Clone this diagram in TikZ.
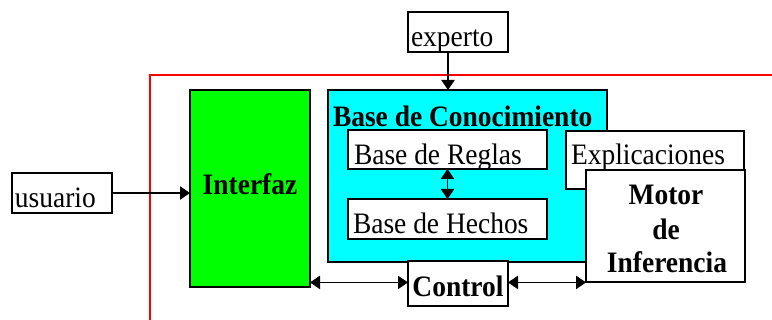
\documentclass[tikz,border=0pt]{standalone}
\usepackage{graphicx}
\usepackage{fontspec}
\setmainfont{Liberation Serif}
\usetikzlibrary{fit,arrows.meta}
\definecolor{kbcyan}{RGB}{0,255,255}
\definecolor{ifgreen}{RGB}{0,255,0}
\definecolor{framered}{RGB}{255,0,0}
\newcommand{\tallt}[1]{\scalebox{1}[1.08]{#1}}
\begin{document}
\begin{tikzpicture}[x=0.75pt,y=-0.75pt,
 box/.style={draw=black, line width=1pt, inner sep=0pt, outer sep=0pt},
 txt/.style={inner sep=0pt, outer sep=0pt, font=\fontsize{20.6}{24}\selectfont},
 btxt/.style={inner sep=0pt, outer sep=0pt, font=\fontsize{20.6}{24}\selectfont\bfseries},
 arr/.style={line width=1pt, -{Triangle[length=7.5pt,width=10pt]}},
 darr/.style={line width=1pt, {Triangle[length=7.5pt,width=10pt]}-{Triangle[length=7.5pt,width=10pt]}},
]
\useasboundingbox (0,0) rectangle (772,320);
% red frame
\draw[framered, line width=1.5pt] (772,75) -- (150,75) -- (150,320);

% boxes
\node[box, fit={(408,12)(508,52)}] (experto) {};
\node[box, fit={(12,173)(112,213)}] (usuario) {};
\node[box, fill=ifgreen, fit={(190,90)(310,287)}] (interfaz) {};
\node[box, fill=kbcyan, fit={(328,90)(607,262)}] (kb) {};
\node[box, fill=white, fit={(348,130)(547,169)}] (reglas) {};
\node[box, fill=white, fit={(348,199)(547,239)}] (hechos) {};
\node[box, fill=white, fit={(566,131)(744,189)}] (explic) {};
\node[box, fill=white, fit={(408,261)(508,306)}] (control) {};

% texts
\begin{scope}
\clip (experto.north west) rectangle (experto.south east);
\node[txt, anchor=base west] (tExperto) at (411,47) {\tallt{experto}};
\end{scope}
\begin{scope}
\clip (usuario.north west) rectangle (usuario.south east);
\node[txt, anchor=base west] (tUsuario) at (15,208) {\tallt{usuario}};
\end{scope}
\node[btxt, anchor=base] (tInterfaz) at (250,195) {\tallt{Interfaz}};
\node[btxt, anchor=base west] (tKB) at (333,127) {\tallt{Base de Conocimiento}};
\begin{scope}
\clip (reglas.north west) rectangle (reglas.south east);
\node[txt, anchor=base west] (tReglas) at (354,165) {\tallt{Base de Reglas}};
\end{scope}
\begin{scope}
\clip (hechos.north west) rectangle (hechos.south east);
\node[txt, anchor=base west] (tHechos) at (353,234) {\tallt{Base de Hechos}};
\end{scope}
\begin{scope}
\clip (explic.north west) rectangle (explic.south east);
\node[txt, anchor=base west] (tExplic) at (571,165) {\tallt{Explicaciones}};
\end{scope}
% motor box drawn over the explicaciones box
\node[box, fill=white, fit={(586,170)(745,282)}] (motor) {};
\node[btxt, anchor=base] (tMotor1) at (666,205) {\tallt{Motor}};
\node[btxt, anchor=base] (tMotor2) at (666,240) {\tallt{de}};
\node[btxt, anchor=base] (tMotor3) at (667,273) {\tallt{Inferencia}};
\node[btxt, anchor=base] (tControl) at (458,297) {\tallt{Control}};

% connectors
\coordinate (expin) at ([xshift=-7.5pt]experto.south);
\draw[arr] (expin) -- (expin |- kb.north);
\draw[arr] (usuario.east) -- (usuario.east -| interfaz.west);
\draw[darr] (reglas.south) -- (hechos.north);
\coordinate (ctlL) at ([yshift=0.8pt]control.west);
\draw[darr] (ctlL -| interfaz.east) -- (ctlL);
\coordinate (ctlR) at ([yshift=0.8pt]control.east);
\draw[darr] (ctlR) -- (ctlR -| motor.west);
\end{tikzpicture}
\end{document}
